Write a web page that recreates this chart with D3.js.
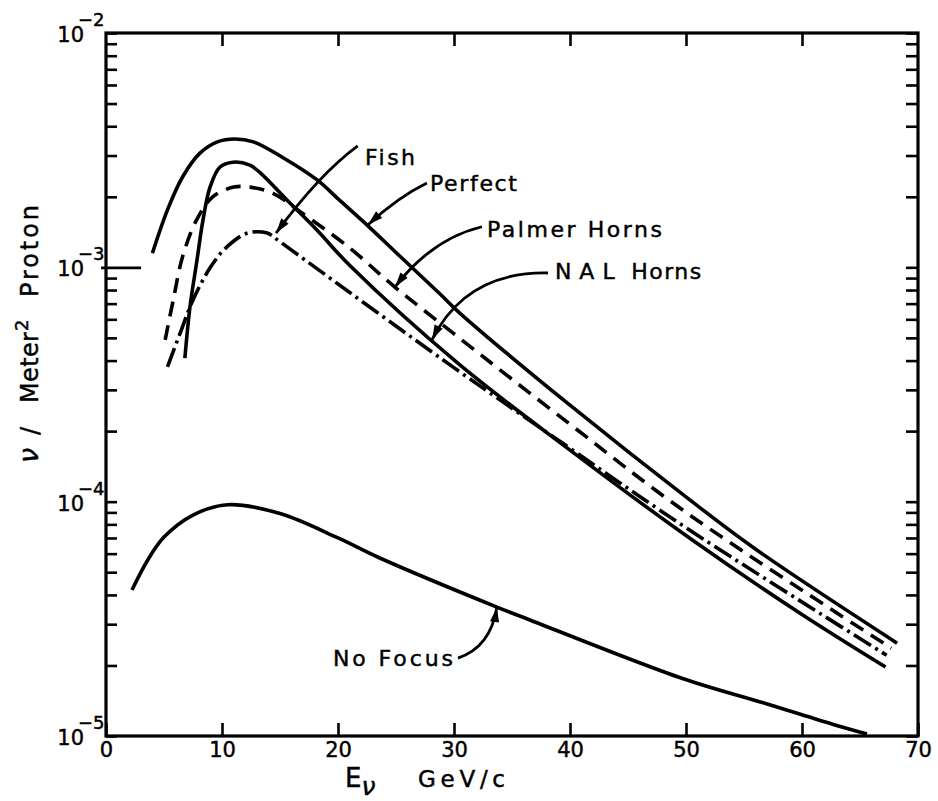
<!DOCTYPE html>
<html>
<head>
<meta charset="utf-8">
<script src="https://cdn.jsdelivr.net/npm/d3@7"></script>
<style>
  body { margin: 0; background: #fff; }
  svg { display: block; }
  text { font-family: "DejaVu Sans", sans-serif; fill: #000; stroke: #000; stroke-width: 0.45px; }
</style>
</head>
<body>
<script>
// neutrinos per m^2 per proton vs neutrino energy, [E (GeV/c), flux]
var perfect = [[4.0,1.15e-3],[5.3,1.76e-3],[6.6,2.43e-3],[8.1,3.07e-3],[9.6,3.43e-3],[11.1,3.53e-3],
  [12.7,3.43e-3],[15.3,2.93e-3],[18.2,2.36e-3],[20.2,1.92e-3],[22.6,1.50e-3],[25.3,1.12e-3],
  [28.8,7.69e-4],[30.5,6.38e-4],[40,2.58e-4],[50.3,1.02e-4],[56.1,6.22e-5],[68.2,2.49e-5]];
var palmer = [[5.1,4.9e-4],[5.8,7.26e-4],[6.6,1.11e-3],[7.8,1.59e-3],[9.2,2.0e-3],[11.0,2.2e-3],
  [12.4,2.2e-3],[14.4,2.07e-3],[16.8,1.72e-3],[21.0,1.21e-3],[24.9,8.24e-4],[29.9,5.25e-4],
  [40,2.14e-4],[50.1,8.93e-5],[67.7,2.37e-5]];
var nal = [[6.8,4.1e-4],[7.24,6.78e-4],[7.84,1.07e-3],[8.36,1.59e-3],[8.97,2.2e-3],[9.83,2.68e-3],
  [10.95,2.81e-3],[12.4,2.73e-3],[13.3,2.53e-3],[15.6,1.94e-3],[18.2,1.44e-3],[21.0,1.02e-3],
  [30.3,3.91e-4],[40,1.66e-4],[50.3,7.0e-5],[59.8,3.35e-5],[67.2,1.97e-5]];
// Fish has a kink near 14.6 GeV, so it is kept in two pieces
var fishRise = [[5.3,3.76e-4],[6.4,5.25e-4],[7.5,7.26e-4],[9.0,1.0e-3],[10.4,1.22e-3],[12.2,1.40e-3],
  [13.9,1.40e-3],[14.6,1.33e-3]];
var fishFall = [[14.6,1.33e-3],[29.9,3.76e-4],[40,1.69e-4],[50.3,7.57e-5],[67.3,2.21e-5]];
var noFocus = [[2.24,4.2e-5],[3.6,5.64e-5],[5.0,7.06e-5],[7.5,8.77e-5],[10.5,9.7e-5],[15,8.9e-5],
  [20,7.0e-5],[23.6,5.75e-5],[33.7,3.55e-5],[36.6,3.12e-5],[49.7,1.76e-5],[57,1.37e-5],
  [62.7,1.12e-5],[65.6,1.02e-5]];

var xTicks = [0,10,20,30,40,50,60,70];
var decades = [1e-5,1e-4,1e-3,1e-2];
var decadeExp = ["\u22125","\u22124","\u22123","\u22122"];

// label text spot, leader start, bend and arrow tip, all in data units
var notes = [
  {text:"Fish",         at:[22.33,2.73e-3], from:[21.7,3.30e-3], bend:[18.36,2.49e-3], tip:[14.66,1.40e-3]},
  {text:"Perfect",      at:[27.93,2.12e-3], from:[27.67,2.29e-3], bend:[25.22,2.0e-3], tip:[22.59,1.52e-3]},
  {text:"Palmer Horns", at:[32.84,1.35e-3], from:[32.41,1.49e-3], bend:[28.06,1.32e-3], tip:[24.91,8.24e-4]},
  {text:"NAL Horns",    at:[38.7,8.9e-4],   from:[38.1,9.46e-4], bend:[31.03,9.6e-4], tip:[28.1,4.9e-4]},
  {text:"No Focus",     at:[19.57,1.99e-5], from:[30.34,2.15e-5], bend:[33.15,2.39e-5], tip:[33.7,3.55e-5]}
];
var noteLen = {"Fish":50, "Perfect":87, "Palmer Horns":175, "No Focus":120};

var W = 938, H = 801;
var mLeft = 106, mRight = 918, mTop = 33, mBottom = 736;

var x = d3.scaleLinear().domain([0,70]).range([mLeft,mRight]);
var y = d3.scaleLog().domain([1e-5,1e-2]).range([mBottom,mTop]);

var svg = d3.select("body").append("svg").attr("width",W).attr("height",H);

// axes: ticks point inward on all four sides
function style(g) {
  g.select(".domain").remove();
  g.selectAll(".tick line").attr("stroke","#000").attr("stroke-width",2.6);
  g.attr("font-family","DejaVu Sans, sans-serif").attr("font-size",21);
}
svg.append("g").attr("transform","translate(0,"+mBottom+")")
  .call(d3.axisBottom(x).tickValues(xTicks).tickSizeInner(-13).tickSizeOuter(0)
    .tickPadding(6).tickFormat(d3.format("d")))
  .call(style);
svg.append("g").attr("transform","translate(0,"+mTop+")")
  .call(d3.axisTop(x).tickValues(xTicks.slice(1,-1)).tickSizeInner(-13).tickSizeOuter(0).tickFormat(""))
  .call(style);
var gl = svg.append("g").attr("transform","translate("+mLeft+",0)")
  .call(d3.axisLeft(y).tickValues(y.ticks()).tickSizeInner(-11).tickSizeOuter(0).tickFormat(""))
  .call(style);
gl.selectAll(".tick line").filter(function(d){ return Math.abs(Math.log10(d)+3) < 1e-6; })
  .attr("x1",-5).attr("x2",35);
svg.append("g").attr("transform","translate("+mRight+",0)")
  .call(d3.axisRight(y).tickValues(y.ticks()).tickSizeInner(-12).tickSizeOuter(0).tickFormat(""))
  .call(style);

svg.append("rect").attr("x",mLeft).attr("y",mTop).attr("width",mRight-mLeft).attr("height",mBottom-mTop)
  .attr("fill","none").attr("stroke","#000").attr("stroke-width",3.2);

// decade labels 10^-n
decades.forEach(function(d,i){
  var yy = y(d);
  svg.append("text").attr("x",84).attr("y",yy+9).attr("text-anchor","end")
    .attr("font-size",21).text("10");
  svg.append("text").attr("x",78).attr("y",yy-7).attr("font-size",18).text(decadeExp[i]);
});

// curves
var line = d3.line().x(function(d){return x(d[0]);}).y(function(d){return y(d[1]);})
  .curve(d3.curveCatmullRom.alpha(0.5));

function curve(path, dash) {
  svg.append("path").attr("d",path).attr("fill","none").attr("stroke","#000")
    .attr("stroke-width",3.6).attr("stroke-dasharray",dash || null);
}
curve(line(perfect));
curve(line(palmer), "15,9");
curve(line(nal));
curve(line(fishRise) + line(fishFall).replace(/^M/,"L"), "20,5,3,5");
curve(line(noFocus));

// labels with curved arrows
notes.forEach(function(n){
  var t0 = svg.append("text").attr("x",x(n.at[0])).attr("y",y(n.at[1])).attr("font-size",22);
  if (n.text === "NAL Horns") {
    // the lettering spreads N A L out
    t0.append("tspan").attr("letter-spacing",8).text("NAL");
    t0.append("tspan").attr("letter-spacing",1.5).text(" Horns");
  } else {
    t0.attr("textLength",noteLen[n.text]).attr("lengthAdjust","spacing").text(n.text);
  }
  var s = [x(n.from[0]),y(n.from[1])], c = [x(n.bend[0]),y(n.bend[1])], t = [x(n.tip[0]),y(n.tip[1])];
  var p = d3.path();
  p.moveTo(s[0],s[1]);
  p.quadraticCurveTo(c[0],c[1],t[0],t[1]);
  svg.append("path").attr("d",p.toString()).attr("fill","none").attr("stroke","#000").attr("stroke-width",2.8);
  var a = Math.atan2(t[1]-c[1], t[0]-c[0]), L = 15, w = 4.5;
  var bx = t[0]-L*Math.cos(a), by = t[1]-L*Math.sin(a);
  svg.append("path")
    .attr("d","M"+t[0]+","+t[1]+"L"+(bx-w*Math.sin(a))+","+(by+w*Math.cos(a))
      +"L"+(bx+w*Math.sin(a))+","+(by-w*Math.cos(a))+"Z")
    .attr("fill","#000");
});

// axis titles
svg.append("text").attr("x",345).attr("y",787).attr("font-size",26).text("E")
  .append("tspan").attr("dy",8).attr("font-style","italic").attr("font-size",25).text("\u03bd");
svg.append("text").attr("x",418).attr("y",787).attr("font-size",23)
  .attr("textLength",87).attr("lengthAdjust","spacing").text("GeV/c");

var yt = svg.append("text").attr("transform","translate(38,463) rotate(-90)").attr("font-size",24);
yt.append("tspan").attr("x",0).attr("font-style","italic").attr("font-size",27).text("\u03bd");
yt.append("tspan").attr("x",28).text("/");
yt.append("tspan").attr("x",60).attr("textLength",71).attr("lengthAdjust","spacing").text("Meter");
yt.append("tspan").attr("x",132).attr("dy",-10).attr("font-size",18).text("2");
yt.append("tspan").attr("x",166).attr("dy",10).attr("textLength",92).attr("lengthAdjust","spacing").text("Proton");
</script>
</body>
</html>
